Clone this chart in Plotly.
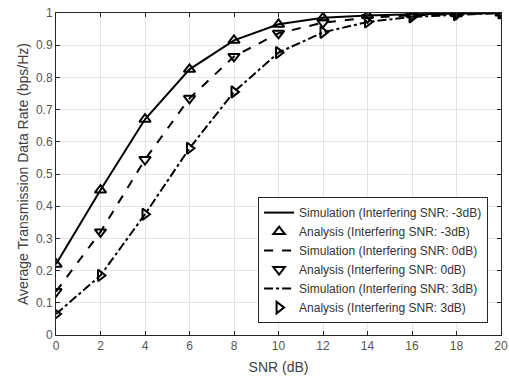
import plotly.graph_objects as go

snr = [0, 2, 4, 6, 8, 10, 12, 14, 16, 18, 20]
rate_m3 = [0.22, 0.45, 0.67, 0.825, 0.915, 0.965, 0.985, 0.992, 0.996, 0.998, 1.0]
rate_0 = [0.135, 0.32, 0.545, 0.735, 0.865, 0.937, 0.97, 0.985, 0.993, 0.997, 1.0]
rate_p3 = [0.065, 0.185, 0.375, 0.58, 0.755, 0.877, 0.94, 0.972, 0.988, 0.995, 1.0]

names_sim = ["Simulation (Interfering SNR: -3dB)", "Simulation (Interfering SNR: 0dB)", "Simulation (Interfering SNR: 3dB)"]
names_ana = ["Analysis (Interfering SNR: -3dB)", "Analysis (Interfering SNR: 0dB)", "Analysis (Interfering SNR: 3dB)"]
dashes = ["solid", "dash", "dashdot"]
symbols = ["triangle-up-open", "triangle-down-open", "triangle-right-open"]
series = [rate_m3, rate_0, rate_p3]

fig = go.Figure()
for i, ys in enumerate(series):
    fig.add_trace(go.Scatter(x=snr, y=ys, mode="lines", name=names_sim[i],
                             line=dict(color="black", width=2, dash=dashes[i])))
    fig.add_trace(go.Scatter(x=snr, y=ys, mode="markers", name=names_ana[i],
                             marker=dict(symbol=symbols[i], size=10, color="black",
                                         line=dict(color="black", width=2))))

axis_common = dict(showline=True, linecolor="#262626", linewidth=1, mirror="ticks",
                   ticks="inside", ticklen=4, tickcolor="#262626",
                   showgrid=True, gridcolor="#e3e3e3", gridwidth=1, zeroline=False,
                   ticklabeloverflow="allow", automargin=False,
                   tickfont=dict(family="Liberation Sans, Arial", size=12, color="#555555"))

fig.update_layout(
    width=509, height=378,
    margin=dict(l=56, r=8, t=13, b=43),
    paper_bgcolor="white", plot_bgcolor="white",
    font=dict(family="Liberation Sans, Arial", size=12, color="#333333"),
    xaxis=dict(range=[0, 20], tickvals=list(range(0, 21, 2)),
               title=dict(text="SNR (dB)", standoff=9, font=dict(size=14, color="#404040")),
               **axis_common),
    yaxis=dict(range=[0, 1], tickvals=[0, 0.1, 0.2, 0.3, 0.4, 0.5, 0.6, 0.7, 0.8, 0.9, 1],
               ticktext=["0", "0.1", "0.2", "0.3", "0.4", "0.5", "0.6", "0.7", "0.8", "0.9", "1"],
               title=dict(text="Average Transmission Data Rate (bps/Hz)", standoff=4,
                          font=dict(size=14, color="#404040")),
               **axis_common),
    legend=dict(x=0.971, y=0.037, xanchor="right", yanchor="bottom",
                bgcolor="white", bordercolor="#262626", borderwidth=1,
                font=dict(size=12, color="#333333"), tracegroupgap=0,
                itemwidth=30),
    showlegend=True,
)

fig.write_html("out.html", config={"displayModeBar": False},
               post_script="document.body.style.margin='0';document.body.style.overflow='hidden';")
